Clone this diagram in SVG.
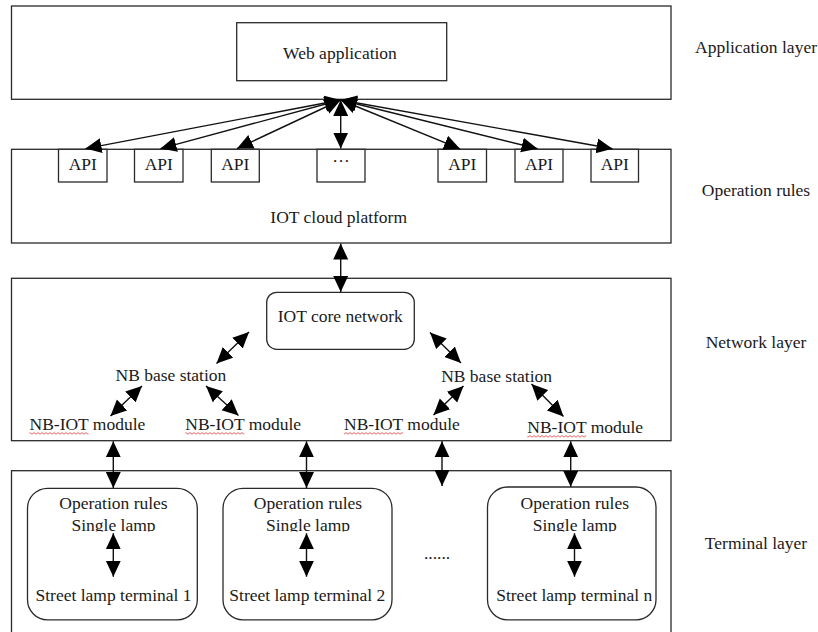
<svg xmlns="http://www.w3.org/2000/svg" width="818" height="632" viewBox="0 0 818 632">
<style>
  .box{fill:#fff;stroke:#2a2a2a;stroke-width:1.3}
  .t{font-family:"Liberation Serif","Times New Roman",serif;font-size:17.5px;fill:#1a1a1a}
  .m{text-anchor:middle}
  .ln{stroke:#111;stroke-width:1.4;fill:none;marker-start:url(#ah);marker-end:url(#ah)}
</style>
<defs>
  <marker id="ah" markerUnits="userSpaceOnUse" markerWidth="16" markerHeight="16" viewBox="0 0 16 16" refX="16" refY="8" orient="auto-start-reverse">
    <path d="M0,0.5 L16,8 L0,15.5 Z" fill="#000"/>
  </marker>
  <pattern id="wavy" width="4" height="3" patternUnits="userSpaceOnUse">
    <path d="M0,2.2 L2,0.6 L4,2.2" fill="none" stroke="#e23a3a" stroke-width="0.8"/>
  </pattern>
  <clipPath id="clipLamp"><rect x="0" y="510" width="818" height="21.5"/></clipPath>
</defs>

<g id="application-layer">
  <rect class="box" x="11.5" y="6" width="659.5" height="93.3"/>
  <text class="t m" x="756" y="53">Application layer</text>
</g>
<g id="web-application">
  <rect class="box" x="236.7" y="22.7" width="210" height="58"/>
  <text class="t m" x="340" y="58.5">Web application</text>
</g>

<g id="operation-rules-layer">
  <rect class="box" x="11.5" y="149.3" width="659.5" height="93.7"/>
  <text class="t m" x="338.7" y="222.5">IOT cloud platform</text>
  <text class="t m" x="756" y="196">Operation rules</text>
</g>
<g id="api-1"><rect class="box" x="58.5" y="149.3" width="48.5" height="32.7"/><text class="t m" x="82.8" y="169.5">API</text></g>
<g id="api-2"><rect class="box" x="134.5" y="149.3" width="48.5" height="32.7"/><text class="t m" x="158.8" y="169.5">API</text></g>
<g id="api-3"><rect class="box" x="211.3" y="149.3" width="48" height="32.7"/><text class="t m" x="235.3" y="169.5">API</text></g>
<g id="api-dots"><rect class="box" x="317" y="149.3" width="48" height="32.7"/><text class="t m" x="341" y="162">…</text></g>
<g id="api-5"><rect class="box" x="438" y="149.3" width="48.5" height="32.7"/><text class="t m" x="462.3" y="169.5">API</text></g>
<g id="api-6"><rect class="box" x="515" y="149.3" width="48" height="32.7"/><text class="t m" x="539" y="169.5">API</text></g>
<g id="api-7"><rect class="box" x="591" y="149.3" width="47.5" height="32.7"/><text class="t m" x="614.8" y="169.5">API</text></g>

<g id="network-layer">
  <rect class="box" x="11.5" y="278.3" width="659.5" height="162.4"/>
  <text class="t m" x="756" y="348">Network layer</text>
</g>
<g id="iot-core-network">
  <rect class="box" x="266.7" y="292.3" width="147.6" height="57" rx="10"/>
  <text class="t m" x="340.3" y="322">IOT core network</text>
</g>
<g id="nb-base-station-1"><text class="t" x="115.5" y="381">NB base station</text></g>
<g id="nb-base-station-2"><text class="t" x="441.2" y="381.5">NB base station</text></g>
<g id="nb-iot-module-1"><text class="t" x="29.5" y="430">NB-IOT module</text><rect x="29.5" y="432" width="59" height="3" fill="url(#wavy)"/></g>
<g id="nb-iot-module-2"><text class="t" x="185.3" y="430">NB-IOT module</text><rect x="185.3" y="432" width="59" height="3" fill="url(#wavy)"/></g>
<g id="nb-iot-module-3"><text class="t" x="344" y="430">NB-IOT module</text><rect x="344" y="432" width="59" height="3" fill="url(#wavy)"/></g>
<g id="nb-iot-module-4"><text class="t" x="527.3" y="432.5">NB-IOT module</text><rect x="527.3" y="435" width="59" height="3" fill="url(#wavy)"/></g>

<g id="terminal-layer">
  <rect class="box" x="11.5" y="470.7" width="659.5" height="200"/>
  <text class="t m" x="756" y="549">Terminal layer</text>
  <text class="t m" x="437" y="559">......</text>
</g>
<g id="terminal-1">
  <rect class="box" x="27.5" y="488.3" width="169.8" height="131.5" rx="20"/>
  <text class="t m" x="113.5" y="509">Operation rules</text>
  <text class="t m" x="113.5" y="530.5" clip-path="url(#clipLamp)">Single lamp</text>
  <text class="t m" x="113.5" y="600.7">Street lamp terminal 1</text>
</g>
<g id="terminal-2">
  <rect class="box" x="223" y="488.3" width="169" height="131.5" rx="20"/>
  <text class="t m" x="308" y="509">Operation rules</text>
  <text class="t m" x="308" y="530.5" clip-path="url(#clipLamp)">Single lamp</text>
  <text class="t m" x="307.3" y="600.7">Street lamp terminal 2</text>
</g>
<g id="terminal-n">
  <rect class="box" x="487.5" y="487" width="168.5" height="132.8" rx="20"/>
  <text class="t m" x="574.8" y="509">Operation rules</text>
  <text class="t m" x="574.8" y="530.5" clip-path="url(#clipLamp)">Single lamp</text>
  <text class="t m" x="574.2" y="600.7">Street lamp terminal n</text>
</g>

<g id="connectors">
  <line class="ln" x1="340.7" y1="100" x2="85.5" y2="148.6"/>
  <line class="ln" x1="340.7" y1="100" x2="160.5" y2="148.6"/>
  <line class="ln" x1="340.7" y1="100" x2="237" y2="148.6"/>
  <line class="ln" x1="340.7" y1="100" x2="340.7" y2="148.6"/>
  <line class="ln" x1="340.7" y1="100" x2="460" y2="148.8"/>
  <line class="ln" x1="340.7" y1="100" x2="537.5" y2="148.8"/>
  <line class="ln" x1="340.7" y1="100" x2="612.5" y2="148.8"/>
  <line class="ln" x1="340.7" y1="243.5" x2="340.7" y2="292"/>
  <line class="ln" x1="249" y1="332" x2="216.5" y2="363.5"/>
  <line class="ln" x1="430" y1="332.5" x2="461" y2="363"/>
  <line class="ln" x1="142" y1="386" x2="110.5" y2="416"/>
  <line class="ln" x1="206" y1="386" x2="238.5" y2="415.5"/>
  <line class="ln" x1="463.5" y1="386" x2="433.5" y2="415"/>
  <line class="ln" x1="531.5" y1="384" x2="563.5" y2="416.5"/>
  <line class="ln" x1="113.3" y1="441.3" x2="113.3" y2="488"/>
  <line class="ln" x1="306.5" y1="441.3" x2="306.5" y2="488"/>
  <line class="ln" x1="442" y1="441.3" x2="442" y2="486"/>
  <line class="ln" x1="570.7" y1="441.3" x2="570.7" y2="486.8"/>
  <line class="ln" x1="113.3" y1="533.3" x2="113.3" y2="576.7"/>
  <line class="ln" x1="306.5" y1="533.3" x2="306.5" y2="576.7"/>
  <line class="ln" x1="574.5" y1="533.3" x2="574.5" y2="576.7"/>
</g>
</svg>
